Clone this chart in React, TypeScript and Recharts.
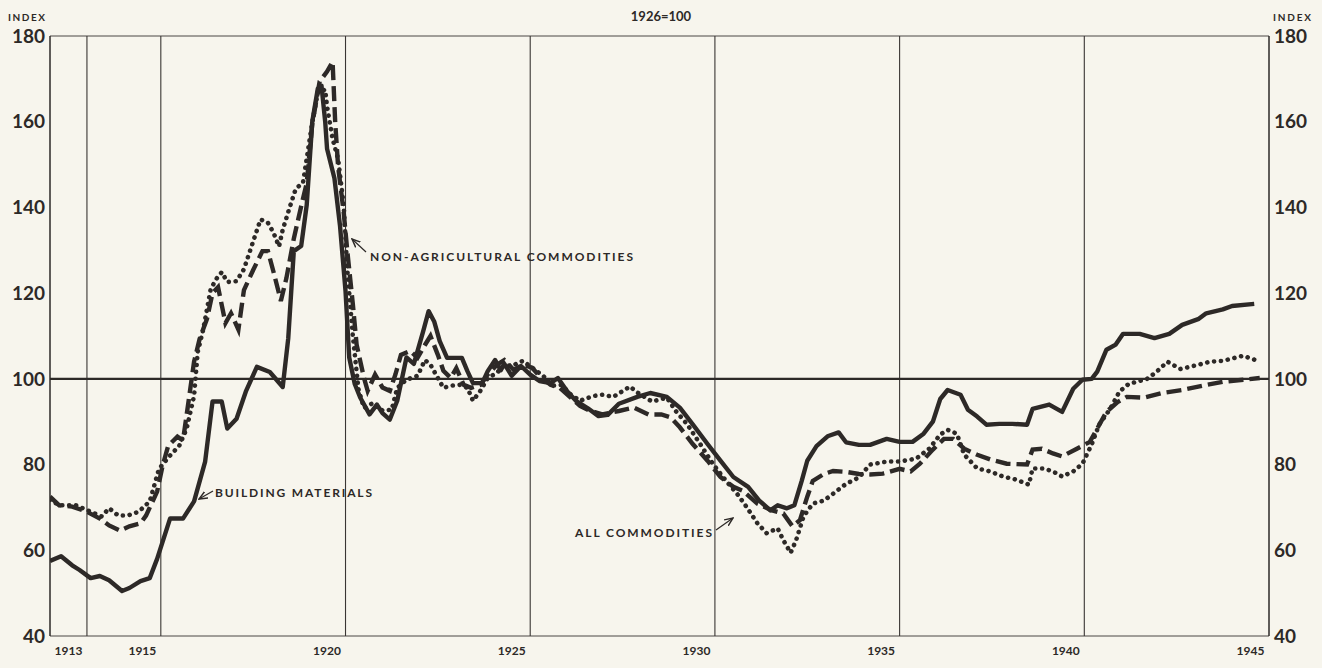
import React from "react";
import { CartesianGrid, Line, LineChart, ReferenceLine, XAxis, YAxis } from "recharts";

// Wholesale price indexes, 1926 = 100
const buildingYears = [
  1913.0, 1913.3, 1913.6, 1913.8, 1914.1, 1914.35, 1914.6, 1914.95, 1915.15, 1915.45, 1915.7, 1915.9,
  1916.25, 1916.6, 1916.9, 1917.2, 1917.4, 1917.65, 1917.8, 1918.05, 1918.3, 1918.6, 1918.95, 1919.3,
  1919.45, 1919.6, 1919.8, 1919.95, 1920.1, 1920.25, 1920.35, 1920.45, 1920.5, 1920.7, 1920.85, 1921.0,
  1921.1, 1921.25, 1921.4, 1921.65, 1921.85, 1922.0, 1922.2, 1922.4, 1922.65, 1922.85, 1923.1, 1923.25,
  1923.4, 1923.55, 1923.75, 1924.15, 1924.3, 1924.45, 1924.7, 1924.85, 1925.05, 1925.2, 1925.3, 1925.5,
  1925.75, 1926.0, 1926.25, 1926.55, 1926.75, 1927.0, 1927.25, 1927.55, 1927.85, 1928.1, 1928.4, 1928.9,
  1929.25, 1929.7, 1930.05, 1930.4, 1930.8, 1931.15, 1931.5, 1931.9, 1932.2, 1932.5, 1932.7, 1932.95,
  1933.15, 1933.35, 1933.5, 1933.75, 1934.05, 1934.35, 1934.55, 1934.9, 1935.2, 1935.65, 1936.0, 1936.35,
  1936.65, 1936.9, 1937.1, 1937.3, 1937.65, 1937.85, 1938.1, 1938.35, 1938.7, 1939.05, 1939.45, 1939.6,
  1940.05, 1940.4, 1940.7, 1940.95, 1941.2, 1941.35, 1941.6, 1941.85, 1942.05, 1942.5, 1942.9, 1943.3,
  1943.65, 1944.1, 1944.3, 1944.75, 1945.0, 1945.6,
];
const buildingIndex = [
  57.5, 58.6, 56.5, 55.4, 53.5, 54.0, 53.0, 50.5, 51.2, 52.8, 53.5, 58.0,
  67.4, 67.4, 71.4, 80.7, 94.7, 94.7, 88.4, 90.7, 97.0, 102.8, 101.6, 98.1,
  109.5, 129.8, 131.0, 140.6, 160.0, 167.7, 168.4, 160.0, 153.7, 146.8, 135.8, 120.5,
  105.0, 98.8, 95.6, 91.7, 94.0, 92.0, 90.5, 94.9, 105.0, 103.5, 111.0, 115.8,
  113.4, 108.8, 104.9, 104.9, 101.8, 99.0, 99.0, 101.8, 104.4, 102.0, 103.5, 100.7,
  103.0, 101.0, 99.5, 99.0, 100.2, 97.1, 94.8, 93.2, 91.3, 91.6, 94.2, 95.8,
  96.7, 95.8, 93.3, 89.4, 84.8, 80.9, 77.1, 74.8, 71.6, 69.3, 70.5, 69.8,
  70.5, 76.2, 80.9, 84.3, 86.6, 87.5, 85.2, 84.6, 84.6, 86.0, 85.3, 85.3,
  87.2, 90.0, 95.3, 97.4, 96.3, 92.8, 91.2, 89.3, 89.5, 89.5, 89.3, 93.0,
  94.0, 92.3, 97.7, 99.8, 100.0, 101.7, 106.8, 108.0, 110.5, 110.5, 109.5, 110.5,
  112.6, 114.0, 115.3, 116.2, 117.0, 117.5,
];

const nonAgYears = [
  1913.0, 1913.25, 1913.6, 1914.0, 1914.35, 1914.6, 1914.9, 1915.15, 1915.45, 1915.6, 1915.9, 1916.05,
  1916.2, 1916.45, 1916.6, 1916.75, 1916.9, 1917.05, 1917.25, 1917.4, 1917.55, 1917.75, 1917.9, 1918.1,
  1918.25, 1918.5, 1918.75, 1918.9, 1919.05, 1919.25, 1919.4, 1919.6, 1919.8, 1919.95, 1920.1, 1920.3,
  1920.5, 1920.65, 1920.72, 1920.8, 1920.95, 1921.05, 1921.2, 1921.3, 1921.5, 1921.6, 1921.8, 1922.0,
  1922.2, 1922.35, 1922.5, 1922.75, 1922.95, 1923.15, 1923.3, 1923.5, 1923.65, 1923.85, 1924.0, 1924.2,
  1924.4, 1924.65, 1924.85, 1925.1, 1925.3, 1925.55, 1925.8, 1926.05, 1926.25, 1926.55, 1926.8, 1927.05,
  1927.35, 1927.6, 1927.95, 1928.4, 1928.8, 1929.2, 1929.55, 1929.8, 1930.05, 1930.4, 1930.8, 1931.15,
  1931.5, 1931.75, 1932.15, 1932.55, 1932.85, 1933.1, 1933.3, 1933.5, 1933.65, 1933.95, 1934.2, 1934.55,
  1934.9, 1935.2, 1935.55, 1936.0, 1936.3, 1936.55, 1936.9, 1937.2, 1937.45, 1937.75, 1938.1, 1938.45,
  1938.9, 1939.45, 1939.6, 1939.85, 1940.15, 1940.4, 1940.8, 1941.15, 1941.35, 1941.6, 1941.9, 1942.15,
  1942.6, 1943.1, 1943.65, 1944.2, 1944.75, 1945.3, 1945.75,
];
const nonAgIndex = [
  72.5, 70.5, 70.2, 69.0, 67.4, 65.8, 64.6, 65.6, 66.3, 68.1, 73.7, 79.8,
  84.4, 86.5, 85.6, 94.7, 104.0, 109.3, 114.0, 120.0, 121.4, 113.0, 115.3, 111.5,
  120.7, 125.4, 129.8, 129.8, 125.0, 118.2, 123.5, 132.7, 140.3, 145.7, 159.5, 169.4,
  171.7, 174.0, 160.0, 149.5, 138.9, 129.7, 117.3, 108.0, 100.2, 97.2, 101.0, 98.0,
  97.2, 101.0, 105.6, 106.5, 104.9, 107.9, 110.0, 105.6, 101.9, 100.2, 102.5, 98.6,
  97.9, 98.6, 101.0, 103.3, 104.4, 102.1, 103.3, 102.6, 100.7, 98.6, 97.9, 96.0,
  93.7, 92.6, 91.7, 92.5, 93.3, 91.7, 91.7, 91.0, 88.7, 84.8, 80.9, 77.1,
  74.8, 73.9, 70.9, 69.3, 68.6, 65.6, 67.0, 72.5, 76.2, 77.8, 78.5, 78.3,
  77.8, 77.7, 77.9, 79.0, 78.4, 80.2, 83.5, 86.0, 86.0, 83.7, 82.3, 81.2,
  80.2, 80.0, 83.5, 83.7, 82.6, 81.9, 83.7, 85.3, 88.4, 92.3, 94.6, 95.8,
  95.6, 96.7, 97.4, 98.4, 99.3, 99.8, 100.2,
];

const allYears = [
  1913.0, 1913.25, 1913.7, 1914.1, 1914.4, 1914.6, 1914.85, 1915.1, 1915.4, 1915.7, 1915.95, 1916.25,
  1916.5, 1916.7, 1916.9, 1917.0, 1917.15, 1917.35, 1917.5, 1917.65, 1917.8, 1918.05, 1918.25, 1918.4,
  1918.7, 1918.9, 1919.05, 1919.2, 1919.3, 1919.5, 1919.65, 1919.85, 1920.1, 1920.25, 1920.45, 1920.5,
  1920.65, 1920.8, 1920.95, 1921.05, 1921.2, 1921.35, 1921.5, 1921.75, 1922.0, 1922.25, 1922.4, 1922.65,
  1922.95, 1923.15, 1923.3, 1923.5, 1923.65, 1923.85, 1924.1, 1924.3, 1924.45, 1924.65, 1924.85, 1925.1,
  1925.3, 1925.5, 1925.8, 1926.05, 1926.35, 1926.6, 1926.85, 1927.1, 1927.35, 1927.7, 1927.95, 1928.25,
  1928.7, 1928.9, 1929.3, 1929.7, 1929.95, 1930.25, 1930.6, 1930.95, 1931.3, 1931.6, 1931.85, 1932.15,
  1932.4, 1932.7, 1932.85, 1933.05, 1933.2, 1933.4, 1933.65, 1933.95, 1934.2, 1934.55, 1934.9, 1935.2,
  1935.65, 1936.0, 1936.45, 1936.8, 1937.1, 1937.3, 1937.55, 1937.75, 1938.1, 1938.45, 1938.8, 1939.15,
  1939.5, 1939.6, 1939.9, 1940.15, 1940.4, 1940.7, 1940.95, 1941.2, 1941.4, 1941.7, 1941.95, 1942.2,
  1942.7, 1942.95, 1943.25, 1943.6, 1944.05, 1944.4, 1944.75, 1945.3, 1945.6,
];
const allIndex = [
  71.8, 70.5, 70.5, 69.0, 67.9, 69.8, 68.1, 68.1, 69.0, 71.4, 79.0, 82.1,
  84.4, 88.4, 96.0, 106.3, 111.6, 120.9, 123.3, 124.9, 122.6, 122.8, 125.6, 129.5,
  137.2, 136.4, 134.1, 130.9, 134.8, 140.3, 144.3, 145.8, 159.8, 166.8, 167.5, 163.6,
  156.0, 151.3, 140.5, 125.3, 109.9, 97.6, 93.2, 94.4, 92.6, 92.8, 97.9, 99.8,
  100.7, 104.4, 103.3, 100.2, 97.9, 98.4, 98.6, 97.9, 94.9, 97.2, 100.2, 101.4,
  103.3, 103.0, 104.2, 102.6, 100.7, 98.4, 98.6, 96.3, 94.9, 96.0, 96.3, 95.8,
  98.2, 96.8, 94.7, 95.6, 92.4, 89.4, 84.8, 80.1, 76.2, 73.2, 70.2, 66.3,
  64.0, 65.1, 62.4, 59.4, 62.4, 67.9, 70.9, 71.6, 73.2, 75.5, 77.0, 80.0,
  80.7, 80.7, 81.4, 83.7, 87.0, 88.1, 87.2, 82.3, 79.1, 78.4, 77.2, 76.5,
  75.3, 79.1, 79.1, 78.4, 77.2, 78.4, 80.2, 84.7, 89.3, 93.0, 97.0, 98.8,
  100.0, 101.6, 104.0, 102.3, 103.2, 104.0, 104.2, 105.4, 104.5,
];

const yTicks = [40, 60, 80, 100, 120, 140, 160, 180];
const yearLabels = [1913, 1915, 1920, 1925, 1930, 1935, 1940, 1945];
const yearRules = [1914, 1916, 1921, 1926, 1931, 1936, 1941];

const toPoints = (years: number[], values: number[]) => years.map((x, i) => ({ x, y: values[i] }));

const building = toPoints(buildingYears, buildingIndex);
const nonAg = toPoints(nonAgYears, nonAgIndex);
const allComm = toPoints(allYears, allIndex);

const INK = "#2d2927";
const PAPER = "#f7f5ed";
const FONT = "Lato, 'DejaVu Sans', sans-serif";

const axisTick = { fontSize: 19, fontWeight: 700, fill: INK, fontFamily: FONT };

export default function App() {
  return (
    <div style={{ position: "absolute", left: 0, top: 0, width: 1322, height: 668, background: PAPER }}>
      <LineChart width={1322} height={668} data={building} margin={{ top: 36, right: 0, bottom: 0, left: 0 }}>
        <CartesianGrid vertical={false} stroke="#4a4644" strokeWidth={1} />
        <XAxis
          dataKey="x"
          type="number"
          domain={[1913, 1946]}
          ticks={yearLabels.map(y => y + 0.5)}
          tickFormatter={v => String(Math.floor(v))}
          axisLine={false}
          tickLine={false}
          tickSize={0}
          tickMargin={10}
          height={32}
          tick={{ fontSize: 12, fontWeight: 700, fill: INK, fontFamily: FONT }}
          allowDataOverflow
        />
        <YAxis
          yAxisId="left"
          domain={[40, 180]}
          ticks={yTicks}
          width={50}
          tickSize={0}
          tickMargin={5}
          tickLine={false}
          axisLine={{ stroke: INK, strokeWidth: 1.5 }}
          tick={axisTick}
          interval={0}
        />
        <YAxis
          yAxisId="right"
          orientation="right"
          domain={[40, 180]}
          ticks={yTicks}
          width={53}
          tickSize={0}
          tickMargin={5}
          tickLine={false}
          axisLine={{ stroke: INK, strokeWidth: 1.5 }}
          tick={axisTick}
          interval={0}
        />
        {yearRules.map(yr => (
          <ReferenceLine key={yr} x={yr} yAxisId="left" stroke="#3a3634" strokeWidth={1.1} />
        ))}
        <ReferenceLine y={100} yAxisId="left" stroke={INK} strokeWidth={2.2} />
        <Line
          data={allComm}
          dataKey="y"
          yAxisId="left"
          type="linear"
          stroke={INK}
          strokeWidth={4.6}
          strokeDasharray="0.1 6.8"
          strokeLinecap="round"
          dot={false}
          isAnimationActive={false}
        />
        <Line
          data={nonAg}
          dataKey="y"
          yAxisId="left"
          type="linear"
          stroke={INK}
          strokeWidth={4.4}
          strokeDasharray="15 6"
          dot={false}
          isAnimationActive={false}
        />
        {/* same 40-180 scale, bound to the right axis so its labels are drawn */}
        <Line
          data={building}
          dataKey="y"
          yAxisId="right"
          type="linear"
          stroke={INK}
          strokeWidth={4.4}
          strokeLinejoin="round"
          dot={false}
          isAnimationActive={false}
        />
      </LineChart>

      {/* title, index labels and series call-outs */}
      <svg
        width={1322}
        height={668}
        style={{ position: "absolute", left: 0, top: 0, pointerEvents: "none" }}
        fontFamily={FONT}
        fontWeight={700}
        fill={INK}
      >
        <defs>
          <marker id="arrow" markerWidth="8" markerHeight="8" refX="7" refY="4" orient="auto">
            <path d="M0,1 L7,4 L0,7" fill="none" stroke={INK} strokeWidth="1.2" />
          </marker>
        </defs>
        <text x={661} y={21} textAnchor="middle" fontSize={13}>1926=100</text>
        <text x={8} y={21} fontSize={10} textLength={37}>INDEX</text>
        <text x={1273} y={21} fontSize={10} textLength={38}>INDEX</text>

        <text x={370} y={261} fontSize={12} textLength={263} lengthAdjust="spacing">NON-AGRICULTURAL COMMODITIES</text>
        <line x1={366} y1={252} x2={352} y2={239} stroke={INK} strokeWidth={1.2} markerEnd="url(#arrow)" />

        <text x={215} y={497} fontSize={12} textLength={157} lengthAdjust="spacing">BUILDING MATERIALS</text>
        <line x1={213} y1={491} x2={199} y2={499} stroke={INK} strokeWidth={1.2} markerEnd="url(#arrow)" />

        <text x={575} y={537} fontSize={12} textLength={137} lengthAdjust="spacing">ALL COMMODITIES</text>
        <line x1={716} y1={530} x2={733} y2={518} stroke={INK} strokeWidth={1.2} markerEnd="url(#arrow)" />
      </svg>
    </div>
  );
}
